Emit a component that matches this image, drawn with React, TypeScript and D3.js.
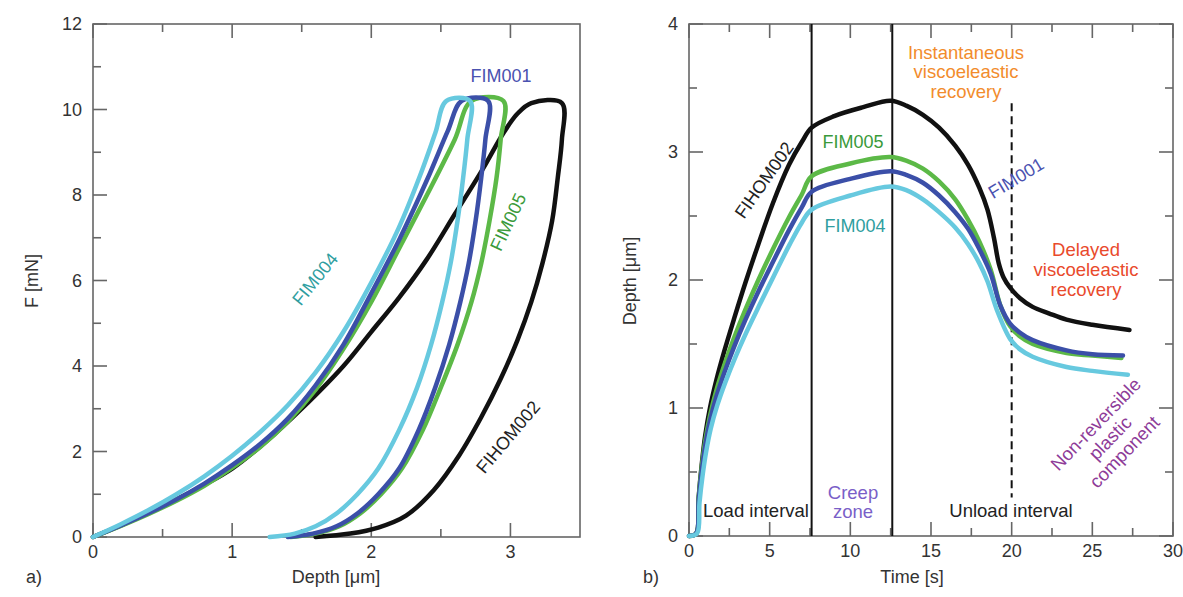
import * as React from "react";
import { useRef, useEffect } from "react";
import * as d3 from "d3";

// panel a) force [mN] vs depth [µm], loading -> hold -> unloading
const loopFIHOM002: [number, number][] = [
  [0, 0], [0.2, 0.27], [0.4, 0.56], [0.6, 0.88], [0.8, 1.22], [1.0, 1.6], [1.25, 2.25],
  [1.5, 3.0], [1.8, 4.0], [2.0, 4.8], [2.2, 5.6], [2.4, 6.5], [2.6, 7.55],
  [2.8, 8.6], [2.95, 9.45], [3.05, 9.9], [3.15, 10.15], [3.37, 10.15], [3.37, 9.3],
  [3.34, 8.4], [3.3, 7.4], [3.23, 6.4], [3.15, 5.5], [3.05, 4.6], [2.93, 3.7],
  [2.79, 2.8], [2.63, 1.9], [2.45, 1.1], [2.25, 0.5], [2.05, 0.22], [1.85, 0.08], [1.6, 0],
];
const loopFIM005: [number, number][] = [
  [0, 0], [0.2, 0.26], [0.4, 0.54], [0.6, 0.85], [0.8, 1.2], [1.0, 1.62], [1.2, 2.1],
  [1.4, 2.7], [1.6, 3.45], [1.8, 4.4], [2.0, 5.5], [2.2, 6.75], [2.4, 8.0],
  [2.6, 9.3], [2.72, 10.2], [2.95, 10.2], [2.93, 9.3], [2.9, 8.4], [2.85, 7.4],
  [2.79, 6.4], [2.72, 5.5], [2.62, 4.5], [2.5, 3.5], [2.37, 2.5], [2.22, 1.6],
  [2.07, 1.0], [1.92, 0.55], [1.77, 0.25], [1.6, 0.08], [1.42, 0],
];
const loopFIM001: [number, number][] = [
  [0, 0], [0.2, 0.27], [0.4, 0.56], [0.6, 0.88], [0.8, 1.25], [1.0, 1.68], [1.2, 2.17],
  [1.4, 2.77], [1.6, 3.55], [1.8, 4.5], [2.0, 5.7], [2.2, 6.95], [2.4, 8.35],
  [2.55, 9.5], [2.65, 10.2], [2.84, 10.2], [2.82, 9.3], [2.79, 8.4], [2.75, 7.4],
  [2.7, 6.4], [2.64, 5.5], [2.56, 4.5], [2.46, 3.5], [2.34, 2.5], [2.2, 1.6],
  [2.05, 1.0], [1.9, 0.55], [1.75, 0.25], [1.58, 0.08], [1.4, 0],
];
const loopFIM004: [number, number][] = [
  [0, 0], [0.2, 0.3], [0.4, 0.63], [0.6, 1.0], [0.8, 1.42], [1.0, 1.9], [1.2, 2.45],
  [1.4, 3.08], [1.6, 3.85], [1.8, 4.8], [2.0, 5.95], [2.2, 7.25], [2.35, 8.45],
  [2.46, 9.45], [2.54, 10.2], [2.71, 10.2], [2.69, 9.3], [2.66, 8.4], [2.62, 7.4],
  [2.57, 6.4], [2.51, 5.5], [2.43, 4.5], [2.33, 3.5], [2.2, 2.5], [2.05, 1.6],
  [1.9, 1.0], [1.75, 0.55], [1.6, 0.25], [1.45, 0.08], [1.27, 0],
];

// panel b) depth [µm] vs time [s]
const timeFIHOM002: [number, number][] = [
  [0, 0], [0.45, 0.02], [0.6, 0.3], [0.8, 0.57], [1.0, 0.78], [1.3, 1.0], [1.7, 1.22],
  [2.2, 1.45], [2.8, 1.7], [3.5, 1.98], [4.3, 2.28], [5.2, 2.6], [6.2, 2.9],
  [7.0, 3.08], [7.6, 3.19], [9.0, 3.28], [10.8, 3.35], [12.5, 3.4], [13.5, 3.36],
  [14.5, 3.29], [15.5, 3.19], [16.5, 3.05], [17.3, 2.9], [18, 2.72], [18.5, 2.55],
  [18.9, 2.33], [19.2, 2.13], [19.5, 2.02], [19.9, 1.94], [20.5, 1.86], [21.3, 1.79],
  [22.3, 1.74], [23.4, 1.69], [25, 1.65], [27.3, 1.61],
];
const timeFIM005: [number, number][] = [
  [0, 0], [0.45, 0.02], [0.6, 0.3], [0.8, 0.55], [1.0, 0.74], [1.3, 0.94], [1.7, 1.14],
  [2.2, 1.34], [2.8, 1.55], [3.5, 1.77], [4.3, 2.0], [5.2, 2.24], [6.2, 2.49],
  [7.0, 2.67], [7.6, 2.81], [10, 2.91], [12.5, 2.96], [13.5, 2.93], [14.5, 2.87],
  [15.5, 2.77], [16.5, 2.63], [17.3, 2.47], [18, 2.3], [18.7, 2.08], [19.3, 1.8],
  [19.9, 1.64], [20.5, 1.56], [21.3, 1.5], [23.4, 1.43], [25, 1.41], [26.8, 1.39],
];
const timeFIM001: [number, number][] = [
  [0, 0], [0.45, 0.02], [0.6, 0.28], [0.8, 0.52], [1.0, 0.7], [1.3, 0.9], [1.7, 1.09],
  [2.2, 1.28], [2.8, 1.48], [3.5, 1.69], [4.3, 1.91], [5.2, 2.14], [6.2, 2.39],
  [7.0, 2.57], [7.6, 2.69], [10, 2.79], [12.5, 2.85], [13.5, 2.82], [14.5, 2.76],
  [15.5, 2.66], [16.5, 2.53], [17.3, 2.4], [18, 2.24], [18.7, 2.05], [19.3, 1.8],
  [19.9, 1.66], [20.5, 1.59], [21.3, 1.53], [23.4, 1.45], [25, 1.42], [26.9, 1.41],
];
const timeFIM004: [number, number][] = [
  [0, 0], [0.5, 0.02], [0.65, 0.26], [0.85, 0.48], [1.05, 0.65], [1.35, 0.84], [1.75, 1.02],
  [2.25, 1.2], [2.85, 1.39], [3.55, 1.59], [4.35, 1.8], [5.25, 2.03], [6.25, 2.28],
  [7.0, 2.45], [7.6, 2.55], [10, 2.66], [12.5, 2.73], [13.5, 2.7], [14.5, 2.63],
  [15.5, 2.53], [16.5, 2.41], [17.3, 2.28], [18, 2.13], [18.5, 1.99], [19.1, 1.76],
  [19.9, 1.54], [20.5, 1.46], [21.3, 1.4], [23.4, 1.32], [25, 1.29], [27.2, 1.26],
];

// interval boundaries [s]
const loadEnd = 7.6;
const creepEnd = 12.6;
const unloadMark = 20;

const colors = {
  FIHOM002: "#111111",
  FIM005: "#5cb947",
  FIM001: "#3b4fa8",
  FIM004: "#67c9df",
};

const FONT = "'Liberation Sans', Arial, sans-serif";

type Frame = {
  x: d3.ScaleLinear<number, number>;
  y: d3.ScaleLinear<number, number>;
  xMajor: number[];
  xMinor: number[];
  yMajor: number[];
  yMinor: number[];
  rightTicks: boolean;
};

function drawFrame(svg: any, f: Frame) {
  const [x0, x1] = f.x.range();
  const [y1, y0] = f.y.range();
  const axisColor = "#666";

  const g = svg.append("g");
  g.append("rect")
    .attr("x", x0)
    .attr("y", y0)
    .attr("width", x1 - x0)
    .attr("height", y1 - y0)
    .attr("fill", "none")
    .attr("stroke", axisColor)
    .attr("stroke-width", 1.6);

  // inward ticks
  const tick = (vals: number[], len: number, horizontal: boolean, side: "min" | "max") => {
    g.selectAll(null)
      .data(vals)
      .enter()
      .append("line")
      .attr("x1", (d: number) => (horizontal ? f.x(d) : side === "min" ? x0 : x1))
      .attr("x2", (d: number) => (horizontal ? f.x(d) : side === "min" ? x0 + len : x1 - len))
      .attr("y1", (d: number) => (horizontal ? (side === "min" ? y1 : y0) : f.y(d)))
      .attr("y2", (d: number) => (horizontal ? (side === "min" ? y1 - len : y0 + len) : f.y(d)))
      .attr("stroke", axisColor)
      .attr("stroke-width", 1.6);
  };

  tick(f.xMajor, 14, true, "min");
  tick(f.xMinor, 8, true, "min");
  tick(f.xMajor, 14, true, "max");
  tick(f.xMinor, 8, true, "max");
  tick(f.yMajor, 14, false, "min");
  tick(f.yMinor, 8, false, "min");
  if (f.rightTicks) {
    tick(f.yMajor, 14, false, "max");
    tick(f.yMinor, 8, false, "max");
  }

  g.selectAll(null)
    .data(f.xMajor)
    .enter()
    .append("text")
    .attr("x", (d: number) => f.x(d))
    .attr("y", y1 + 7)
    .attr("dy", "0.75em")
    .attr("text-anchor", "middle")
    .attr("font-family", FONT)
    .attr("font-size", 18)
    .attr("fill", "#333")
    .text((d: number) => String(d));

  g.selectAll(null)
    .data(f.yMajor)
    .enter()
    .append("text")
    .attr("x", x0 - 11)
    .attr("y", (d: number) => f.y(d))
    .attr("dy", "0.36em")
    .attr("text-anchor", "end")
    .attr("font-family", FONT)
    .attr("font-size", 18)
    .attr("fill", "#333")
    .text((d: number) => String(d));
}

function label(
  svg: any,
  lines: string[],
  x: number,
  y: number,
  color: string,
  angle = 0,
  size = 18,
  lineHeight = 20
) {
  const t = svg.append("text")
    .attr("transform", `translate(${x},${y}) rotate(${angle})`)
    .attr("text-anchor", "middle")
    .attr("font-family", FONT)
    .attr("font-size", size)
    .attr("fill", color);
  const off = -((lines.length - 1) * lineHeight) / 2;
  lines.forEach((s, i) => {
    t.append("tspan")
      .attr("x", 0)
      .attr("y", off + i * lineHeight)
      .attr("dy", "0.35em")
      .text(s);
  });
}

function drawSeries(svg: any, x: any, y: any, series: [[number, number][], string][]) {
  const line = d3
    .line<[number, number]>()
    .x((d) => x(d[0]))
    .y((d) => y(d[1]))
    .curve(d3.curveCatmullRom.alpha(0.5));

  series.forEach(([data, c]) => {
    svg.append("path")
      .datum(data)
      .attr("fill", "none")
      .attr("stroke", c)
      .attr("stroke-width", 4.5)
      .attr("stroke-linejoin", "round")
      .attr("stroke-linecap", "round")
      .attr("d", line);
  });
}

const PanelA = () => {
  const ref = useRef<SVGGElement>(null);

  useEffect(() => {
    const svg = d3.select(ref.current!);
    svg.selectAll("*").remove();

    const x = d3.scaleLinear().domain([0, 3.5]).range([93, 580]);
    const y = d3.scaleLinear().domain([0, 12]).range([537, 24]);

    drawFrame(svg, {
      x,
      y,
      xMajor: [0, 1, 2, 3],
      xMinor: [0.5, 1.5, 2.5],
      yMajor: [0, 2, 4, 6, 8, 10, 12],
      yMinor: [1, 3, 5, 7, 9, 11],
      rightTicks: false,
    });

    drawSeries(svg, x, y, [
      [loopFIHOM002, colors.FIHOM002],
      [loopFIM005, colors.FIM005],
      [loopFIM001, colors.FIM001],
      [loopFIM004, colors.FIM004],
    ]);

    label(svg, ["FIM001"], 501, 76, "#4a52b0");
    label(svg, ["FIM005"], 508, 222, "#3a9a3a", -65);
    label(svg, ["FIM004"], 315, 279, "#2f9ea0", -51);
    label(svg, ["FIHOM002"], 508, 437, "#222", -50);

    label(svg, ["F [mN]"], 32, 281, "#333", -90, 18);
    label(svg, ["Depth [\u03bcm]"], 336, 577, "#333", 0, 18);
    label(svg, ["a)"], 34, 577, "#333", 0, 18);
  }, []);

  return <g ref={ref}></g>;
};

const PanelB = () => {
  const ref = useRef<SVGGElement>(null);

  useEffect(() => {
    const svg = d3.select(ref.current!);
    svg.selectAll("*").remove();

    const x = d3.scaleLinear().domain([0, 30]).range([689, 1173]);
    const y = d3.scaleLinear().domain([0, 4]).range([536, 24]);

    drawFrame(svg, {
      x,
      y,
      xMajor: [0, 5, 10, 15, 20, 25, 30],
      xMinor: [2.5, 7.5, 12.5, 17.5, 22.5, 27.5],
      yMajor: [0, 1, 2, 3, 4],
      yMinor: [0.5, 1.5, 2.5, 3.5],
      rightTicks: true,
    });

    // interval separators
    [loadEnd, creepEnd].forEach((t) => {
      svg.append("line")
        .attr("x1", x(t))
        .attr("x2", x(t))
        .attr("y1", y(4))
        .attr("y2", y(0))
        .attr("stroke", "#111")
        .attr("stroke-width", 2);
    });
    svg.append("line")
      .attr("x1", x(unloadMark))
      .attr("x2", x(unloadMark))
      .attr("y1", y(3.38))
      .attr("y2", y(0.3))
      .attr("stroke", "#111")
      .attr("stroke-width", 2)
      .attr("stroke-dasharray", "8,5");

    drawSeries(svg, x, y, [
      [timeFIHOM002, colors.FIHOM002],
      [timeFIM005, colors.FIM005],
      [timeFIM001, colors.FIM001],
      [timeFIM004, colors.FIM004],
    ]);

    label(svg, ["FIHOM002"], 764, 180, "#222", -55);
    label(svg, ["FIM005"], 853, 142, "#3a9a3a");
    label(svg, ["FIM004"], 855, 226, "#2f9ea0");
    label(svg, ["FIM001"], 1016, 178, "#4a52b0", -31);
    label(svg, ["Instantaneous", "viscoeleastic", "recovery"], 966, 72, "#f28c2c", 0, 18.5, 19.5);
    label(svg, ["Delayed", "viscoeleastic", "recovery"], 1086, 270, "#e94a2c", 0, 18.5, 20);
    label(svg, ["Non-reversible", "plastic", "component"], 1110, 438, "#8e3b98", -46, 18.5, 20);
    label(svg, ["Load interval"], 756, 511, "#222", 0, 18.5);
    label(svg, ["Creep", "zone"], 853, 502, "#7a5fc8", 0, 18.5, 19);
    label(svg, ["Unload interval"], 1011, 511, "#222", 0, 18.5);

    label(svg, ["Depth [\u03bcm]"], 630, 281, "#333", -90, 18);
    label(svg, ["Time [s]"], 912, 577, "#333", 0, 18);
    label(svg, ["b)"], 651, 577, "#333", 0, 18);
  }, []);

  return <g ref={ref}></g>;
};

export default function App() {
  return (
    <svg
      width={1183}
      height={597}
      style={{ position: "absolute", left: 0, top: 0, background: "#fff" }}
    >
      <PanelA />
      <PanelB />
    </svg>
  );
}
